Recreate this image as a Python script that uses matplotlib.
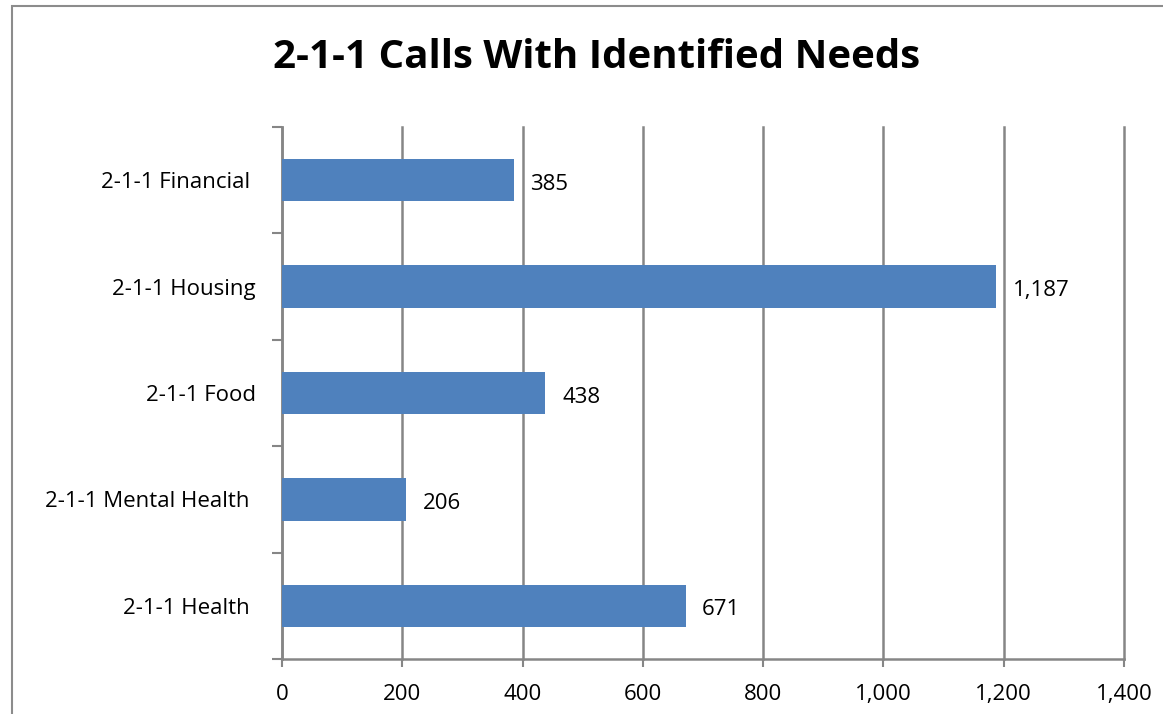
import matplotlib.pyplot as plt
from matplotlib.patches import Rectangle
from matplotlib.ticker import FuncFormatter, FixedLocator

categories = ['2-1-1 Health ', '2-1-1 Mental Health ', '2-1-1 Food', '2-1-1 Housing', '2-1-1 Financial ']
calls = [671, 206, 438, 1187, 385]
xticks = [0, 200, 400, 600, 800, 1000, 1200, 1400]

plt.rcParams['font.family'] = ['Open Sans', 'DejaVu Sans']

fig = plt.figure(figsize=(11.63, 7.14), dpi=100)
W, H = 1163, 714
ax = fig.add_axes([282 / W, 1 - 659 / H, (1124 - 282) / W, (659 - 127) / H])

# outer chart border (right and bottom run off the picture)
fig.patches.append(Rectangle((12 / W, -0.05), 1.1, 1 - 6 / H + 0.05, transform=fig.transFigure,
                             fill=False, edgecolor='#8c8c8c', linewidth=1.5))

grid = '#868686'
pos = list(range(len(categories)))
ax.barh(pos, calls, height=0.4, color='#4F81BD', zorder=3)
for p, v in zip(pos, calls):
    ax.annotate(f'{v:,}', (v, p), xytext=(12, -3), textcoords='offset points',
                va='center', ha='left', fontsize=16)

ax.set_xlim(0, 1400)
ax.set_ylim(-0.5, len(categories) - 0.5)
ax.set_xticks(xticks)
ax.xaxis.set_major_formatter(FuncFormatter(lambda x, _: f'{int(x):,}'))
ax.grid(axis='x', color=grid, linewidth=1.8, zorder=0)
for gl in ax.get_xgridlines():
    gl.set_clip_on(False)

ax.set_yticks(pos)
ax.set_yticklabels(categories)
ax.yaxis.set_minor_locator(FixedLocator([i - 0.5 for i in range(len(categories) + 1)]))
ax.tick_params(axis='y', which='major', length=0, pad=19, labelsize=16)
ax.tick_params(axis='y', which='minor', length=7, width=1.5, color=grid)
ax.tick_params(axis='x', length=6, width=1.5, color=grid, labelsize=16, pad=12)

for s in ['top', 'right']:
    ax.spines[s].set_visible(False)
for s in ['left', 'bottom']:
    ax.spines[s].set_color(grid)
    ax.spines[s].set_linewidth(1.8)

fig.text(597 / W, 1 - 58 / H, '2-1-1 Calls With Identified Needs', ha='center', va='center',
         fontsize=29, fontweight='bold')

fig.savefig('out.png', dpi=100)
